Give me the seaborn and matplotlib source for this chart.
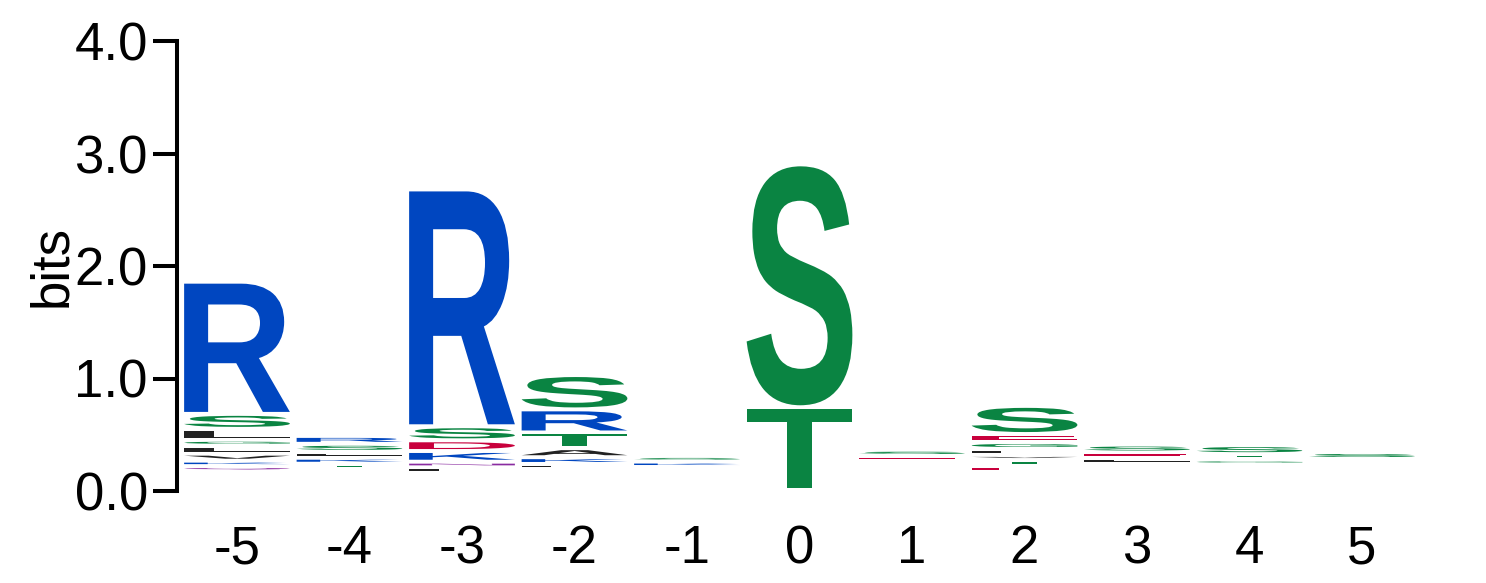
import matplotlib
matplotlib.use("Agg")
import matplotlib.pyplot as plt
import seaborn as sns
from matplotlib.textpath import TextPath
from matplotlib.font_manager import FontProperties
from matplotlib.patches import PathPatch
from matplotlib.transforms import Affine2D

# === datos del logo (bits) ===
positions = [-5, -4, -3, -2, -1, 0, 1, 2, 3, 4, 5]
baselines = [0.191, 0.215, 0.178, 0.213, 0.231, 0.027, 0.284, 0.187, 0.262, 0.253, 0.302]
# letras de abajo hacia arriba
stack_letters = ["QKVLGLSR", "TKLSR", "LNKDSR", "LKATRS", "KS", "TS", "ES", "ETVLGES", "LES", "GTS", "S"]
stack_heights = [
    [0.013, 0.013, 0.027, 0.036, 0.018, 0.062, 0.098, 1.14],
    [0.010, 0.018, 0.018, 0.036, 0.035],
    [0.015, 0.015, 0.060, 0.060, 0.090, 2.07],
    [0.010, 0.025, 0.045, 0.105, 0.170, 0.270],
    [0.013, 0.015],
    [0.700, 2.124],
    [0.010, 0.020],
    [0.018, 0.018, 0.010, 0.018, 0.027, 0.036, 0.215],
    [0.010, 0.018, 0.035],
    [0.010, 0.012, 0.045],
    [0.027],
]
ytick_vals = [0, 1, 2, 3, 4]
ytick_labels = ["0.0", "1.0", "2.0", "3.0", "4.0"]
xtick_labels = ["-5", "-4", "-3", "-2", "-1", "0", "1", "2", "3", "4", "5"]

colors = {}
for c in "RKH":
    colors[c] = "#0046C0"
for c in "STGYC":
    colors[c] = "#0A8442"
for c in "DE":
    colors[c] = "#C8003C"
for c in "QN":
    colors[c] = "#8A2BA0"
for c in "AVLIPWFM":
    colors[c] = "#222222"

gap = 0.035
width = 0.94

sns.set_style("ticks")
plt.rcParams["font.family"] = ["Liberation Sans", "DejaVu Sans"]
plt.rcParams["text.color"] = "black"
plt.rcParams["axes.labelcolor"] = "black"
plt.rcParams["xtick.color"] = "black"
plt.rcParams["ytick.color"] = "black"

fig = plt.figure(figsize=(14.86, 5.83), dpi=100)
ax = fig.add_axes([177 / 1486, 92 / 583, 1243 / 1486, 450 / 583])

glyph_font = FontProperties(family="Liberation Sans", weight="bold")


def draw_letter(ax, letter, x, y0, h, w, color):
    path = TextPath((0, 0), letter, size=1, prop=glyph_font)
    ext = path.get_extents()
    tr = (Affine2D()
          .translate(-ext.x0, -ext.y0)
          .scale(w / ext.width, h / ext.height)
          .translate(x - w / 2, y0))
    p = tr.transform_path(path)
    ax.add_patch(PathPatch(p, facecolor=color, edgecolor="none", transform=ax.transData))


for pos, base, letters, heights in zip(positions, baselines, stack_letters, stack_heights):
    y = base
    for letter, h in zip(letters, heights):
        draw_letter(ax, letter, pos, y, h, width, colors[letter])
        y += h + gap

ax.set_xlim((177 - 799.5) / 112.5, (1420 - 799.5) / 112.5)
ax.set_ylim(0, 4)
ax.set_yticks(ytick_vals)
ax.set_yticklabels(ytick_labels, fontsize=38)
ax.set_xticks(positions)
ax.set_xticklabels(xtick_labels, fontsize=38)
ax.tick_params(axis="x", length=0, pad=24, labelcolor="black")
ax.tick_params(axis="y", length=17, width=2.9, pad=4, colors="black", labelcolor="black")
sns.despine(ax=ax, bottom=True)
ax.spines["left"].set_linewidth(2.9)
ax.spines["left"].set_color("black")

ax.set_ylabel("bits", fontsize=38, va="center", color="black")
ax.yaxis.set_label_coords((52 - 177) / 1243, 0.5)

fig.savefig("out.png", dpi=100)
